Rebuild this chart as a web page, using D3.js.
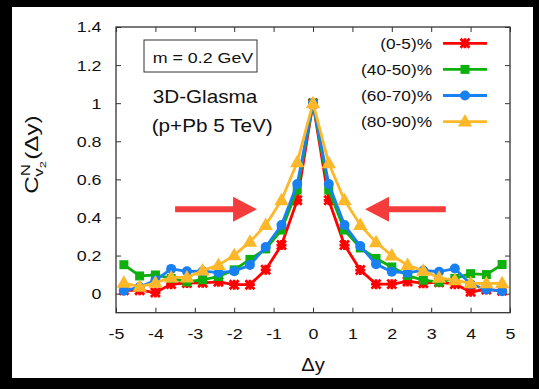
<!DOCTYPE html>
<html>
<head>
<meta charset="utf-8">
<script src="https://cdn.jsdelivr.net/npm/d3@7"></script>
<style>
  html, body { margin: 0; padding: 0; background: #000; }
  text { font-family: "Liberation Sans", Arial, Helvetica, sans-serif; fill: #111; }
</style>
</head>
<body>
<div id="chart"></div>
<script>
// rapidity gaps (x values)
const deltaY = [-4.8, -4.4, -4.0, -3.6, -3.2, -2.8, -2.4, -2.0, -1.6, -1.2, -0.8, -0.4, 0,
  0.4, 0.8, 1.2, 1.6, 2.0, 2.4, 2.8, 3.2, 3.6, 4.0, 4.4, 4.8];

const central0to5 = [0.018, 0.018, 0.006, 0.05, 0.056, 0.057, 0.062, 0.047, 0.047, 0.125, 0.255, 0.49, 1.0,
  0.49, 0.255, 0.124, 0.05, 0.05, 0.064, 0.055, 0.06, 0.05, 0.01, 0.022, 0.015];
const cent40to50 = [0.152, 0.093, 0.098, 0.08, 0.062, 0.073, 0.09, 0.125, 0.18, 0.235, 0.334, 0.544, 1.0,
  0.544, 0.334, 0.24, 0.185, 0.14, 0.095, 0.071, 0.06, 0.08, 0.105, 0.1, 0.153];
const cent60to70 = [0.015, 0.035, 0.07, 0.13, 0.117, 0.118, 0.11, 0.118, 0.15, 0.245, 0.36, 0.576, 1.0,
  0.576, 0.36, 0.25, 0.155, 0.115, 0.11, 0.122, 0.115, 0.132, 0.05, 0.022, 0.013];
const cent80to90 = [0.057, 0.036, 0.057, 0.085, 0.085, 0.122, 0.15, 0.202, 0.272, 0.36, 0.49, 0.69, 1.0,
  0.685, 0.49, 0.36, 0.27, 0.2, 0.15, 0.12, 0.083, 0.071, 0.054, 0.054, 0.054];

const seriesNames = ["(0-5)%", "(40-50)%", "(60-70)%", "(80-90)%"];
const seriesValues = [central0to5, cent40to50, cent60to70, cent80to90];

const xTicks = [-5, -4, -3, -2, -1, 0, 1, 2, 3, 4, 5];
const yTicks = [0, 0.2, 0.4, 0.6, 0.8, 1, 1.2, 1.4];

// arrows pointing at the near-side peak: [tail, tip, height]
const arrows = [[-3.5, -1.42, 0.443], [3.37, 1.32, 0.443]];

const colors = ["#ff0000", "#0db00d", "#1880f2", "#fdb82a"];
const shapes = ["star", "square", "circle", "triangle"];

const W = 539, H = 389;
const SX = 1.15; // glyphs in the picture are a bit wide

const margins = { top: 27, right: 29, bot: 76.3, left: 116 };
const chartWidth = W - margins.left - margins.right;
const chartHeight = H - margins.top - margins.bot;

const xScale = d3.scaleLinear().domain([-5, 5]).range([0, chartWidth]);
const yScale = d3.scaleLinear().domain([-0.1, 1.4]).range([chartHeight, 0]);

const svg = d3.select("#chart").append("svg")
  .attr("width", W).attr("height", H);

svg.append("rect").attr("x", 12).attr("y", 7)
  .attr("width", 521).attr("height", 371).attr("fill", "#fff");

const g = svg.append("g")
  .attr("transform", `translate(${margins.left},${margins.top})`);

// widen text horizontally around its own anchor
function stretch(sel) {
  sel.each(function () {
    const t = d3.select(this);
    const x = +t.attr("x") || 0, y = +t.attr("y") || 0;
    t.attr("x", 0).attr("y", 0)
      .attr("transform", `translate(${x},${y}) scale(${SX},1)`);
  });
}

// axes, ticks inside on all four sides
const xAxis = d3.axisBottom(xScale).tickValues(xTicks).tickSizeInner(-5).tickSizeOuter(0)
  .tickPadding(15.5).tickFormat((d) => String(d));
const yAxis = d3.axisLeft(yScale).tickValues(yTicks).tickSizeInner(-5).tickSizeOuter(0)
  .tickPadding(14.5).tickFormat((d) => String(d));

const xg = g.append("g").attr("transform", `translate(0,${chartHeight})`).call(xAxis);
const yg = g.append("g").call(yAxis);
g.append("g").call(d3.axisTop(xScale).tickValues(xTicks).tickSizeInner(-5).tickSizeOuter(0).tickFormat(""));
g.append("g").attr("transform", `translate(${chartWidth},0)`)
  .call(d3.axisRight(yScale).tickValues(yTicks).tickSizeInner(-5).tickSizeOuter(0).tickFormat(""));

g.selectAll(".domain").remove();
g.selectAll(".tick line").attr("stroke", "#333").attr("stroke-width", 1);
g.selectAll(".tick text").attr("font-size", 15.5).attr("fill", "#111").attr("font-family", null);
stretch(xg.selectAll(".tick text"));
stretch(yg.selectAll(".tick text"));

g.append("rect").attr("width", chartWidth).attr("height", chartHeight)
  .attr("fill", "none").attr("stroke", "#333").attr("stroke-width", 1.3);

// axis titles
const xLabel = g.append("text").attr("x", xScale(0)).attr("y", chartHeight + 58)
  .attr("text-anchor", "middle").attr("font-size", 17.5).text("Δy");
stretch(xLabel);

const yLabel = g.append("text").attr("text-anchor", "middle")
  .attr("transform", `translate(${38 - margins.left},${154.5 - margins.top}) rotate(-90) scale(1.35,1)`)
  .attr("font-size", 18);
yLabel.append("tspan").text("C");
yLabel.append("tspan").attr("font-size", 12.5).attr("dy", -8.5).text("N");
yLabel.append("tspan").attr("font-size", 12.5).attr("dx", -9.5).attr("dy", 13.5).text("v");
yLabel.append("tspan").attr("font-size", 9.5).attr("dy", 3).text("2");
yLabel.append("tspan").attr("dx", 1).attr("dy", -8).text("(Δy)");

// annotation
g.append("rect").attr("x", 144 - margins.left).attr("y", 40 - margins.top)
  .attr("width", 113).attr("height", 32)
  .attr("fill", "#fff").attr("stroke", "#333").attr("stroke-width", 1);
stretch(g.append("text").attr("x", 152.7 - margins.left).attr("y", 63 - margins.top)
  .attr("font-size", 15.5).text("m = 0.2 GeV"));
stretch(g.append("text").attr("x", 152.7 - margins.left).attr("y", 103.3 - margins.top)
  .attr("font-size", 18).text("3D-Glasma"));
stretch(g.append("text").attr("x", 151.7 - margins.left).attr("y", 131.5 - margins.top)
  .attr("font-size", 18).text("(p+Pb 5 TeV)"));

// red arrows
arrows.forEach(([from, to, v]) => {
  const x0 = xScale(from), x1 = xScale(to), yy = yScale(v);
  const dir = Math.sign(x1 - x0), headLen = 24, headH = 12.5;
  g.append("line").attr("x1", x0).attr("x2", x1 - dir * headLen + dir)
    .attr("y1", yy).attr("y2", yy)
    .attr("stroke", "#f43c3c").attr("stroke-width", 6);
  g.append("path")
    .attr("d", `M${x1},${yy}L${x1 - dir * headLen},${yy - headH}L${x1 - dir * headLen},${yy + headH}Z`)
    .attr("fill", "#f43c3c");
});

function drawMarker(sel, shape, color) {
  if (shape === "square") {
    sel.append("rect").attr("x", -4.5).attr("y", -4.5).attr("width", 9).attr("height", 9)
      .attr("fill", color);
  } else if (shape === "circle") {
    sel.append("circle").attr("r", 5).attr("fill", color);
  } else if (shape === "triangle") {
    sel.append("path").attr("d", "M0,-7.5L7.2,5L-7.2,5Z").attr("fill", color);
  } else {
    sel.append("path").attr("d", "M-4.5,-4.5L4.5,4.5M-4.5,4.5L4.5,-4.5M0,-5V5M-5,0H5")
      .attr("stroke", color).attr("stroke-width", 2.8).attr("fill", "none");
  }
}

const line = d3.line().x((d) => xScale(d[0])).y((d) => yScale(d[1]));

seriesValues.forEach((vals, i) => {
  const pts = deltaY.map((x, j) => [x, vals[j]]);
  const sg = g.append("g");
  sg.append("path").datum(pts).attr("d", line)
    .attr("fill", "none").attr("stroke", colors[i]).attr("stroke-width", 2.8)
    .attr("stroke-linejoin", "round");
  sg.selectAll("g.pt").data(pts).enter().append("g").attr("class", "pt")
    .attr("transform", (d) => `translate(${xScale(d[0])},${yScale(d[1])})`)
    .each(function () { drawMarker(d3.select(this), shapes[i], colors[i]); });
});

// legend
const legend = svg.append("g");
seriesNames.forEach((name, i) => {
  const yy = 43.3 + i * 26.1;
  stretch(legend.append("text").attr("x", 432).attr("y", yy + 5.5)
    .attr("text-anchor", "end").attr("font-size", 15).text(name));
  legend.append("line").attr("x1", 443).attr("x2", 487).attr("y1", yy).attr("y2", yy)
    .attr("stroke", colors[i]).attr("stroke-width", 2.8);
  drawMarker(legend.append("g").attr("transform", `translate(465,${yy})`), shapes[i], colors[i]);
});
</script>
</body>
</html>
